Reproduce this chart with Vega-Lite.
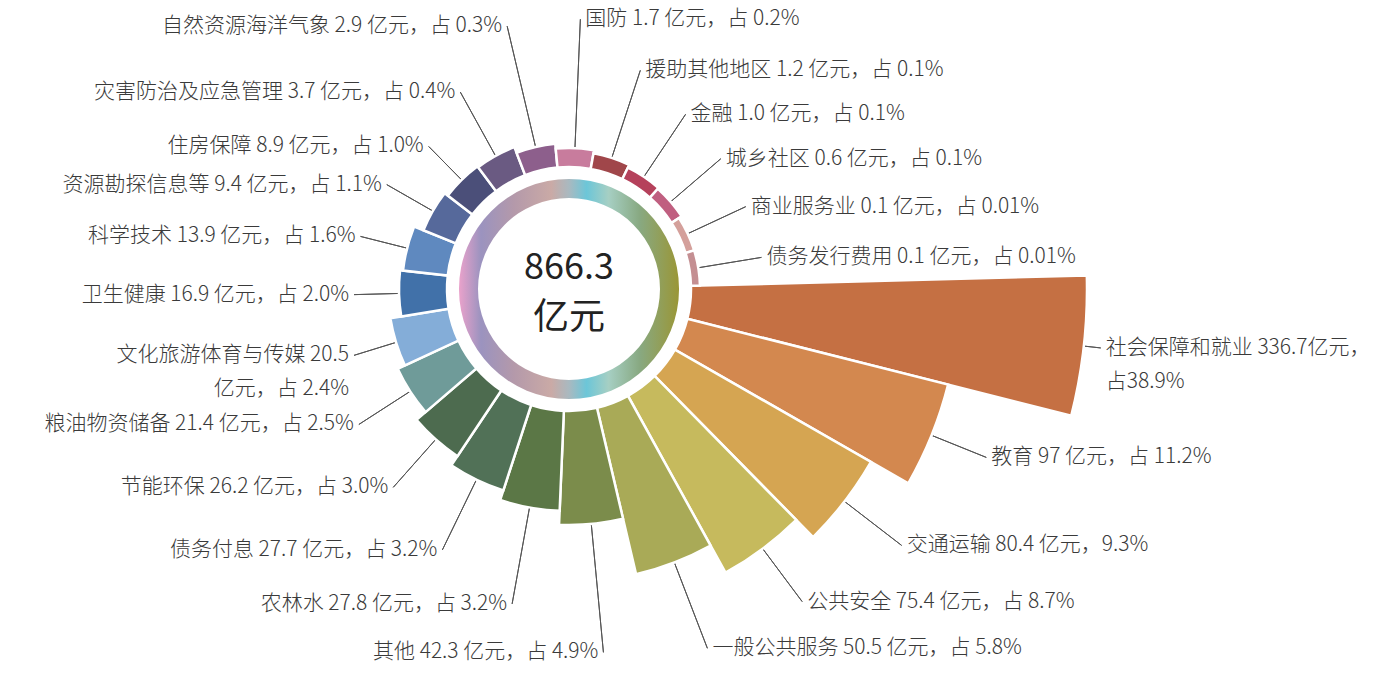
{
  "$schema": "https://vega.github.io/schema/vega-lite/v6.json",
  "width": 1138,
  "height": 578,
  "autosize": {"type": "none"},
  "padding": {"left": 0, "top": 0, "right": 243, "bottom": 99},
  "background": "white",
  "config": {"view": {"stroke": null}, "text": {"font": "Noto Sans CJK SC"}},
  "datasets": {
    "budget": [
      {"name": "社会保障和就业", "value": 336.7, "label": "社会保障和就业 336.7亿元，\n占38.9%"},
      {"name": "教育", "value": 97, "label": "教育 97 亿元，占 11.2%"},
      {"name": "交通运输", "value": 80.4, "label": "交通运输 80.4 亿元，9.3%"},
      {"name": "公共安全", "value": 75.4, "label": "公共安全 75.4 亿元，占 8.7%"},
      {"name": "一般公共服务", "value": 50.5, "label": "一般公共服务 50.5 亿元，占 5.8%"},
      {"name": "其他", "value": 42.3, "label": "其他 42.3 亿元，占 4.9%"},
      {"name": "农林水", "value": 27.8, "label": "农林水 27.8 亿元，占 3.2%"},
      {"name": "债务付息", "value": 27.7, "label": "债务付息 27.7 亿元，占 3.2%"},
      {"name": "节能环保", "value": 26.2, "label": "节能环保 26.2 亿元，占 3.0%"},
      {"name": "粮油物资储备", "value": 21.4, "label": "粮油物资储备 21.4 亿元，占 2.5%"},
      {"name": "文化旅游体育与传媒", "value": 20.5, "label": "文化旅游体育与传媒 20.5\n亿元，占 2.4%"},
      {"name": "卫生健康", "value": 16.9, "label": "卫生健康 16.9 亿元，占 2.0%"},
      {"name": "科学技术", "value": 13.9, "label": "科学技术 13.9 亿元，占 1.6%"},
      {"name": "资源勘探信息等", "value": 9.4, "label": "资源勘探信息等 9.4 亿元，占 1.1%"},
      {"name": "住房保障", "value": 8.9, "label": "住房保障 8.9 亿元，占 1.0%"},
      {"name": "灾害防治及应急管理", "value": 3.7, "label": "灾害防治及应急管理 3.7 亿元，占 0.4%"},
      {"name": "自然资源海洋气象", "value": 2.9, "label": "自然资源海洋气象 2.9 亿元，占 0.3%"},
      {"name": "国防", "value": 1.7, "label": "国防 1.7 亿元，占 0.2%"},
      {"name": "援助其他地区", "value": 1.2, "label": "援助其他地区 1.2 亿元，占 0.1%"},
      {"name": "金融", "value": 1.0, "label": "金融 1.0 亿元，占 0.1%"},
      {"name": "城乡社区", "value": 0.6, "label": "城乡社区 0.6 亿元，占 0.1%"},
      {"name": "商业服务业", "value": 0.1, "label": "商业服务业 0.1 亿元，占 0.01%"},
      {"name": "债务发行费用", "value": 0.1, "label": "债务发行费用 0.1 亿元，占 0.01%"}
    ]
  },
  "layer": [
    {
      "data": {"values": [{"ring": "total"}]},
      "mark": {
        "type": "arc",
        "theta": 0,
        "theta2": 6.2832,
        "radius": 110,
        "radius2": 91,
        "fill": {
          "gradient": "linear",
          "x1": 0, "y1": 0, "x2": 1, "y2": 0,
          "stops": [
            {"offset": 0, "color": "#eaa2cb"},
            {"offset": 0.1, "color": "#9b93bf"},
            {"offset": 0.25, "color": "#b499aa"},
            {"offset": 0.42, "color": "#caaaa6"},
            {"offset": 0.5, "color": "#a9b9c0"},
            {"offset": 0.58, "color": "#6cc6d8"},
            {"offset": 0.68, "color": "#a6cfc3"},
            {"offset": 0.82, "color": "#88a982"},
            {"offset": 1, "color": "#9a9636"}
          ]
        }
      },
      "encoding": {}
    },
    {
      "data": {"name": "budget"},
      "transform": [
        {"aggregate": [{"op": "count", "as": "n"}], "groupby": ["name", "value", "label"]},
        {"stack": "n", "groupby": [], "sort": [{"field": "value", "order": "descending"}, {"field": "name", "order": "descending"}], "as": ["t0", "t1"]}
      ],
      "layer": [
        {
          "mark": {"type": "arc", "padAngle": 1, "filled": false, "stroke": "#555555", "strokeWidth": 1},
          "encoding": {
            "theta": {"field": "t0", "type": "quantitative", "stack": null, "scale": {"domain": [0, 23], "range": [1.5446, 7.8278]}},
            "theta2": {"field": "t1"},
            "radius": {"field": "value", "type": "quantitative", "stack": null, "scale": {"type": "linear", "zero": false,
              "domain": [0.1, 0.6, 1.0, 1.2, 1.7, 2.9, 3.7, 8.9, 9.4, 13.9, 16.9, 20.5, 21.4, 26.2, 27.7, 27.8, 42.3, 50.5, 75.4, 80.4, 97, 336.7],
              "range": [195, 200, 210, 230, 270, 270, 225, 200, 210, 215, 215, 225, 250, 265, 290, 320, 365, 385, 390, 420, 450, 535]}},
            "radius2": {"value": 124}
          }
        },
        {
          "mark": {"type": "arc", "stroke": "white", "strokeWidth": 2.5},
          "encoding": {
            "theta": {"field": "t0", "type": "quantitative", "stack": null, "scale": {"domain": [0, 23], "range": [1.5446, 7.8278]}},
            "theta2": {"field": "t1"},
            "color": {"field": "name", "type": "nominal", "legend": null, "scale": {
              "domain": ["社会保障和就业", "教育", "交通运输", "公共安全", "一般公共服务", "其他", "农林水", "债务付息", "节能环保", "粮油物资储备", "文化旅游体育与传媒", "卫生健康", "科学技术", "资源勘探信息等", "住房保障", "灾害防治及应急管理", "自然资源海洋气象", "国防", "援助其他地区", "金融", "城乡社区", "商业服务业", "债务发行费用"],
              "range": ["#c57043", "#d3884f", "#d5a552", "#c6ba5d", "#a9aa57", "#7b8c4b", "#5b7746", "#517157", "#4d6b4f", "#6f9b99", "#84add8", "#4171a9", "#5f89bf", "#56699b", "#4b4f79", "#6a5a82", "#8d5f8c", "#c87c9d", "#a0464a", "#b5415b", "#c05f80", "#d4a09b", "#c48f92"]}},
            "radius": {"field": "value", "type": "quantitative", "stack": null, "scale": {"type": "linear", "zero": false,
              "domain": [0.1, 0.6, 1.0, 1.2, 1.7, 2.9, 3.7, 8.9, 9.4, 13.9, 16.9, 20.5, 21.4, 26.2, 27.7, 27.8, 42.3, 50.5, 75.4, 80.4, 97, 336.7],
              "range": [131, 134, 135, 138, 141, 146, 152, 153, 157, 167, 170, 181, 189, 201, 212, 222, 236, 293, 324, 348, 391, 518]}},
            "radius2": {"value": 122}
          }
        },
        {
          "mark": {"type": "text", "align": "left", "baseline": "middle", "dx": 5, "fontSize": 21, "fontWeight": 300, "color": "#3a3a3a", "lineBreak": "\n", "lineHeight": 34},
          "encoding": {
            "theta": {"field": "t1", "type": "quantitative", "stack": null, "scale": {"domain": [0, 23], "range": [1.40801, 7.6912]}},
            "radius": {"field": "value", "type": "quantitative", "stack": null, "scale": {"type": "linear", "zero": false,
              "domain": [0.1, 0.6, 1.0, 1.2, 1.7, 2.9, 3.7, 8.9, 9.4, 13.9, 16.9, 20.5, 21.4, 26.2, 27.7, 27.8, 42.3, 50.5, 75.4, 80.4, 97, 336.7],
              "range": [195, 200, 210, 230, 270, 270, 225, 200, 210, 215, 215, 225, 250, 265, 290, 320, 365, 385, 390, 420, 450, 535]}},
            "text": {"field": "label", "type": "nominal"},
            "opacity": {"condition": {"test": "indexof(['其他','农林水','债务付息','节能环保','粮油物资储备','文化旅游体育与传媒','卫生健康','科学技术','资源勘探信息等','住房保障','灾害防治及应急管理','自然资源海洋气象'], datum.name) < 0", "value": 1}, "value": 0}
          }
        },
        {
          "mark": {"type": "text", "align": "right", "baseline": "middle", "dx": -5, "fontSize": 21, "fontWeight": 300, "color": "#3a3a3a", "lineBreak": "\n", "lineHeight": 34},
          "encoding": {
            "theta": {"field": "t1", "type": "quantitative", "stack": null, "scale": {"domain": [0, 23], "range": [1.40801, 7.6912]}},
            "radius": {"field": "value", "type": "quantitative", "stack": null, "scale": {"type": "linear", "zero": false,
              "domain": [0.1, 0.6, 1.0, 1.2, 1.7, 2.9, 3.7, 8.9, 9.4, 13.9, 16.9, 20.5, 21.4, 26.2, 27.7, 27.8, 42.3, 50.5, 75.4, 80.4, 97, 336.7],
              "range": [195, 200, 210, 230, 270, 270, 225, 200, 210, 215, 215, 225, 250, 265, 290, 320, 365, 385, 390, 420, 450, 535]}},
            "text": {"field": "label", "type": "nominal"},
            "opacity": {"condition": {"test": "indexof(['其他','农林水','债务付息','节能环保','粮油物资储备','文化旅游体育与传媒','卫生健康','科学技术','资源勘探信息等','住房保障','灾害防治及应急管理','自然资源海洋气象'], datum.name) >= 0", "value": 1}, "value": 0}
          }
        }
      ],
      "resolve": {"scale": {"radius": "independent", "theta": "independent"}}
    },
    {
      "data": {"values": [{"total": "866.3\n亿元"}]},
      "mark": {"type": "text", "align": "center", "baseline": "middle", "dy": -21, "fontSize": 36, "lineHeight": 50, "lineBreak": "\n", "color": "#222222"},
      "encoding": {"text": {"field": "total", "type": "nominal"}}
    }
  ],
  "resolve": {"scale": {"radius": "independent", "theta": "independent"}}
}
